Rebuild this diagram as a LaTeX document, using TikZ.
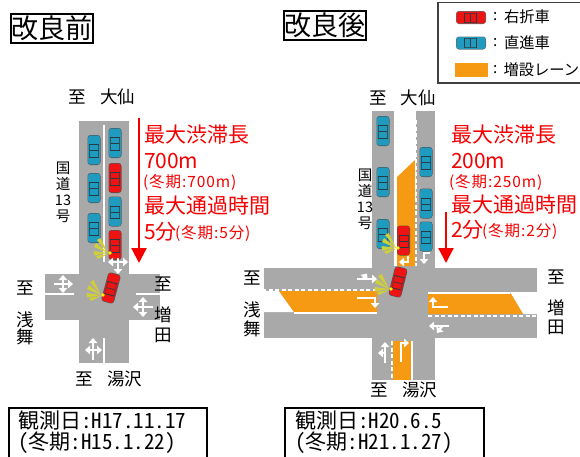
\documentclass[tikz,border=0pt]{standalone}
\usepackage{fontspec}
\usetikzlibrary{arrows.meta}
\setmainfont{Noto Sans CJK JP}
\newfontfamily\hw[RawFeature=+hwid]{Noto Sans CJK JP}
\newfontfamily\spaced[LetterSpace=6]{Noto Sans CJK JP}
\definecolor{road}{HTML}{A9A9A9}
\definecolor{lane}{HTML}{F59A12}
\definecolor{carred}{HTML}{EE1414}
\definecolor{carblue}{HTML}{1F9BBF}
\definecolor{cardark}{HTML}{2B3A40}
\definecolor{ray}{HTML}{CFCF3A}
\definecolor{alert}{HTML}{F50000}
\tikzset{
  txt/.style={inner sep=0pt,outer sep=0pt,text=black},
  lab/.style={txt,font=\fontsize{17.5}{17.5}\selectfont},
  kok/.style={txt,font=\fontsize{14.5}{15}\selectfont},
  big/.style={txt,anchor=west,text=alert,font=\fontsize{21}{21}\selectfont},
  small/.style={txt,anchor=west,text=alert,font=\spaced\fontsize{15.5}{16}\selectfont},
  obs/.style={txt,anchor=west,font=\hw\fontsize{21}{21}\selectfont},
  leg/.style={txt,anchor=west,font=\fontsize{15.3}{16}\selectfont},
  titlebox/.style={draw=black,line width=1.8pt,inner sep=1pt,minimum height=29pt,font=\fontsize{27}{27}\selectfont},
  wline/.style={white,line width=2.6pt},
  wdash/.style={white,line width=2pt,dash pattern=on 4pt off 2.5pt},
  wa/.style={white,line width=2.6pt,-{Triangle[width=8.5pt,length=5pt]}},
  redarrow/.style={alert,line width=2.2pt,-{Triangle[width=15pt,length=15pt]}},
}
% vertical car, centre x,y, rotation, colour, length 30, width 13
\newcommand\mycar[4]{%
\begin{scope}[shift={(#1,#2)},rotate=#3]
 \fill[cardark,opacity=.75,rounded corners=3pt] (-6.5,-15) rectangle (6.5,15);
 \fill[#4,rounded corners=2pt] (-5.8,-14.4) rectangle (5.8,14.4);
 \draw[cardark,line width=.9pt] (-5,-5.5) -- (5,-5.5);
 \draw[cardark,line width=.9pt] (-5,7) -- (5,7);
 \draw[cardark,line width=.7pt] (-4,0.8) -- (4,0.8);
 \draw[cardark,line width=.6pt,opacity=.7] (-4.6,-5.5) -- (-4.6,7) (4.6,-5.5) -- (4.6,7);
\end{scope}}
\newcommand\mylights[2]{%
\begin{scope}[shift={(#1,#2)}]
 \fill[ray] (-2,0) -- (-13,-13) -- (-9.5,-15) -- cycle;
 \fill[ray] (-2,0) -- (-16,-6) -- (-14,-10) -- cycle;
 \fill[ray] (-2,0) -- (-16,2.5) -- (-16.5,-2) -- cycle;
 \fill[ray] (-2,1) -- (-12,6) -- (-14,3) -- cycle;
 \fill[yellow] (0,0) circle (1.8);
\end{scope}}
\begin{document}
\begin{tikzpicture}[x=1pt,y=-1pt]
\useasboundingbox (0,0) rectangle (580,456);
\clip (0,0) rectangle (580,456);
\fill[white] (0,0) rectangle (580,456);
% ---------- titles
\node[titlebox,anchor=north west,minimum width=82pt,txt,draw=black] (t1) at (11,14) {改良前};
\node[titlebox,anchor=north west,minimum width=82pt,txt,draw=black] (t2) at (284,11) {改良後};
% ---------- legend
\draw[draw=black!75,line width=1.2pt] (438,2.5) rectangle (590,83);
\mycar{471}{17.5}{-90}{carred}
\mycar{471}{43}{-90}{carblue}
\fill[lane] (455,63) rectangle (488,77);
\node[leg] (l0a) at (493,17) {:};
\node[leg] (l0b) at (493,43) {:};
\node[leg] (l0c) at (493,70) {:};
\node[leg] (l1) at (504,17) {右折車};
\node[leg] (l2) at (504,43) {直進車};
\node[leg] (l3) at (503.5,70) {増設レーン};
% ---------- left intersection
\fill[road] (79,121) rectangle (129,363);
\fill[road] (45,274) rectangle (160,320);
\draw[wline] (104,125) -- (104,262);
\draw[wline] (104,338) -- (104,363);
\draw[wline] (45,294) -- (74,294);
\draw[wline] (136,294) -- (160,294);
\mycar{94}{150}{0}{carblue}
\mycar{94}{188}{0}{carblue}
\mycar{94}{228}{0}{carblue}
\mycar{115}{143}{0}{carblue}
\mycar{115}{178}{0}{carred}
\mycar{115}{211.5}{0}{carblue}
\mycar{115}{245}{0}{carred}
\mylights{110}{253}
% arrows left
\draw[wa] (118,258) -- (118,274);
\draw[wa] (118,262) -- (108,262);
\draw[wa] (118,262) -- (128,262);
\mycar{111}{288}{-15}{carred}
\mylights{103}{295}
\draw[wa] (54,284) -- (73,284);
\draw[wa] (63,284) -- (63,275);
\draw[wa] (63,284) -- (63,293);
\draw[wa] (153,307) -- (133,307);
\draw[wa] (143,307) -- (143,297);
\draw[wa] (143,307) -- (143,317);
\draw[wa] (93,360) -- (93,338);
\draw[wa] (93,350) -- (85,350);
\draw[wa] (93,350) -- (102,350);
% ---------- left labels
\node[lab] (a1) at (77.5,97) {至};
\node[lab] (a2) at (117.5,97) {大仙};
\node[kok] (a3) at (63,168) {国};
\node[kok] (a4) at (63,184) {道};
\node[kok] (a5) at (63,200) {13};
\node[kok] (a6) at (63,216) {号};
\node[lab] (a7) at (25,288) {至};
\node[lab] (a8) at (25,320) {浅};
\node[lab] (a9) at (25,337) {舞};
\node[lab] (a10) at (163,284) {至};
\node[lab] (a11) at (163,315) {増};
\node[lab] (a12) at (163,335) {田};
\node[lab] (a13) at (84,379) {至};
\node[lab] (a14) at (124.5,379) {湯沢};
% ---------- left red
\coordinate (ra) at (139,118);
\coordinate (rb) at (139,263);
\draw[redarrow] (ra) -- (rb);
\node[big] (b1) at (144,135) {最大渋滞長};
\node[big] (b2) at (144,161) {700m};
\node[small] (b3) at (143,182) {(冬期:700m)};
\node[big] (b4) at (144,206) {最大通過時間};
\node[big] (b5) at (144,232) {5分};
\node[small] (b6) at (175,233) {(冬期:5分)};
% ---------- left obs box
\draw[black,line width=1.5pt] (9,408) rectangle (207,470);
\node[obs] (c1) at (18,421) {観測日:H17.11.17};
\node[obs] (c2) at (18,443) {(冬期:H15.1.22)};
% ---------- right intersection
\fill[road] (372,111) rectangle (435,380);
\fill[white] (394,105) rectangle (416,200);
\fill[white] (394,200) rectangle (397,266);
\fill[road] (264,268) rectangle (537,338);
\fill[lane] (397,177) -- (415,160) -- (415,266) -- (397,266) -- cycle;
\draw[wdash] (416,120) -- (416,266);
% left orange
\fill[white] (264,291) -- (279,291) -- (294,312) -- (264,312) -- cycle;
\fill[lane] (279,291) -- (377,291) -- (377,312) -- (294,312) -- cycle;
\draw[wdash] (262,290) -- (377,290);
\draw[wline,line width=2pt] (294,313) -- (377,313);
% right orange
\fill[white] (510,292) -- (537,292) -- (537,314) -- (523,314) -- cycle;
\fill[lane] (428,294) -- (511,294) -- (523,314) -- (428,314) -- cycle;
\draw[wline,line width=2pt] (428,293) -- (510,293);
\draw[wdash] (428,315.5) -- (537,315.5);
% bottom orange
\fill[lane] (393,341) rectangle (411,380);
\draw[wdash] (392,341) -- (392,380);
\draw[wline,line width=2pt] (412,341) -- (412,380);
% cars
\mycar{383}{131}{0}{carblue}
\mycar{383}{182}{0}{carblue}
\mycar{383}{234}{0}{carblue}
\mycar{426}{162}{0}{carblue}
\mycar{426}{203.5}{0}{carblue}
\mycar{426}{236.5}{0}{carblue}
\mycar{403.5}{240.5}{0}{carred}
\mylights{398}{248}
\mycar{398}{282}{-14}{carred}
\mylights{391}{289}
% arrows
\draw[wa,line width=2pt] (408,256) -- (408,262) -- (399,262);
\draw[wa] (424,252) -- (424,264);
\draw[white,line width=1.6pt] (424,253) -- (430,253);
\draw[wa] (357,279) -- (377,279);
\draw[wa] (363,279) -- (367,273.5);
\draw[wa,line width=2pt] (357,298) -- (375,298) -- (375,308);
\draw[wa,line width=2pt] (448,307) -- (433,307) -- (433,297);
\draw[wa] (449,326) -- (429,326);
\draw[wa] (442,326) -- (437,333);
\draw[wa] (385,363) -- (385,342);
\draw[wa] (385,353) -- (378,353);
\draw[wa,line width=2.4pt] (401,362) -- (401,343) -- (409,343);
% ---------- right labels
\node[lab] (d1) at (378.5,98) {至};
\node[lab] (d2) at (418,98) {大仙};
\node[kok] (d3) at (365,175) {国};
\node[kok] (d4) at (365,191) {道};
\node[kok] (d5) at (365,207) {13};
\node[kok] (d6) at (365,223) {号};
\node[lab] (d7) at (252,278) {至};
\node[lab] (d8) at (252,310) {浅};
\node[lab] (d9) at (252,329) {舞};
\node[lab] (d10) at (556,277) {至};
\node[lab] (d11) at (556,308) {増};
\node[lab] (d12) at (556,327) {田};
\node[lab] (d13) at (379,390) {至};
\node[lab] (d14) at (419.5,390) {湯沢};
% ---------- right red
\coordinate (rc) at (446,212);
\coordinate (rd) at (446,263);
\draw[redarrow] (rc) -- (rd);
\node[big] (e1) at (451,135) {最大渋滞長};
\node[big] (e2) at (451,161) {200m};
\node[small] (e3) at (449,182) {(冬期:250m)};
\node[big] (e4) at (451,205) {最大通過時間};
\node[big] (e5) at (451,230) {2分};
\node[small] (e6) at (482,231) {(冬期:2分)};
% ---------- right obs box
\draw[black,line width=1.5pt] (285,408) rectangle (484,470);
\node[obs] (f1) at (295,421) {観測日:H20.6.5};
\node[obs] (f2) at (295,443) {(冬期:H21.1.27)};
\end{tikzpicture}
\end{document}
